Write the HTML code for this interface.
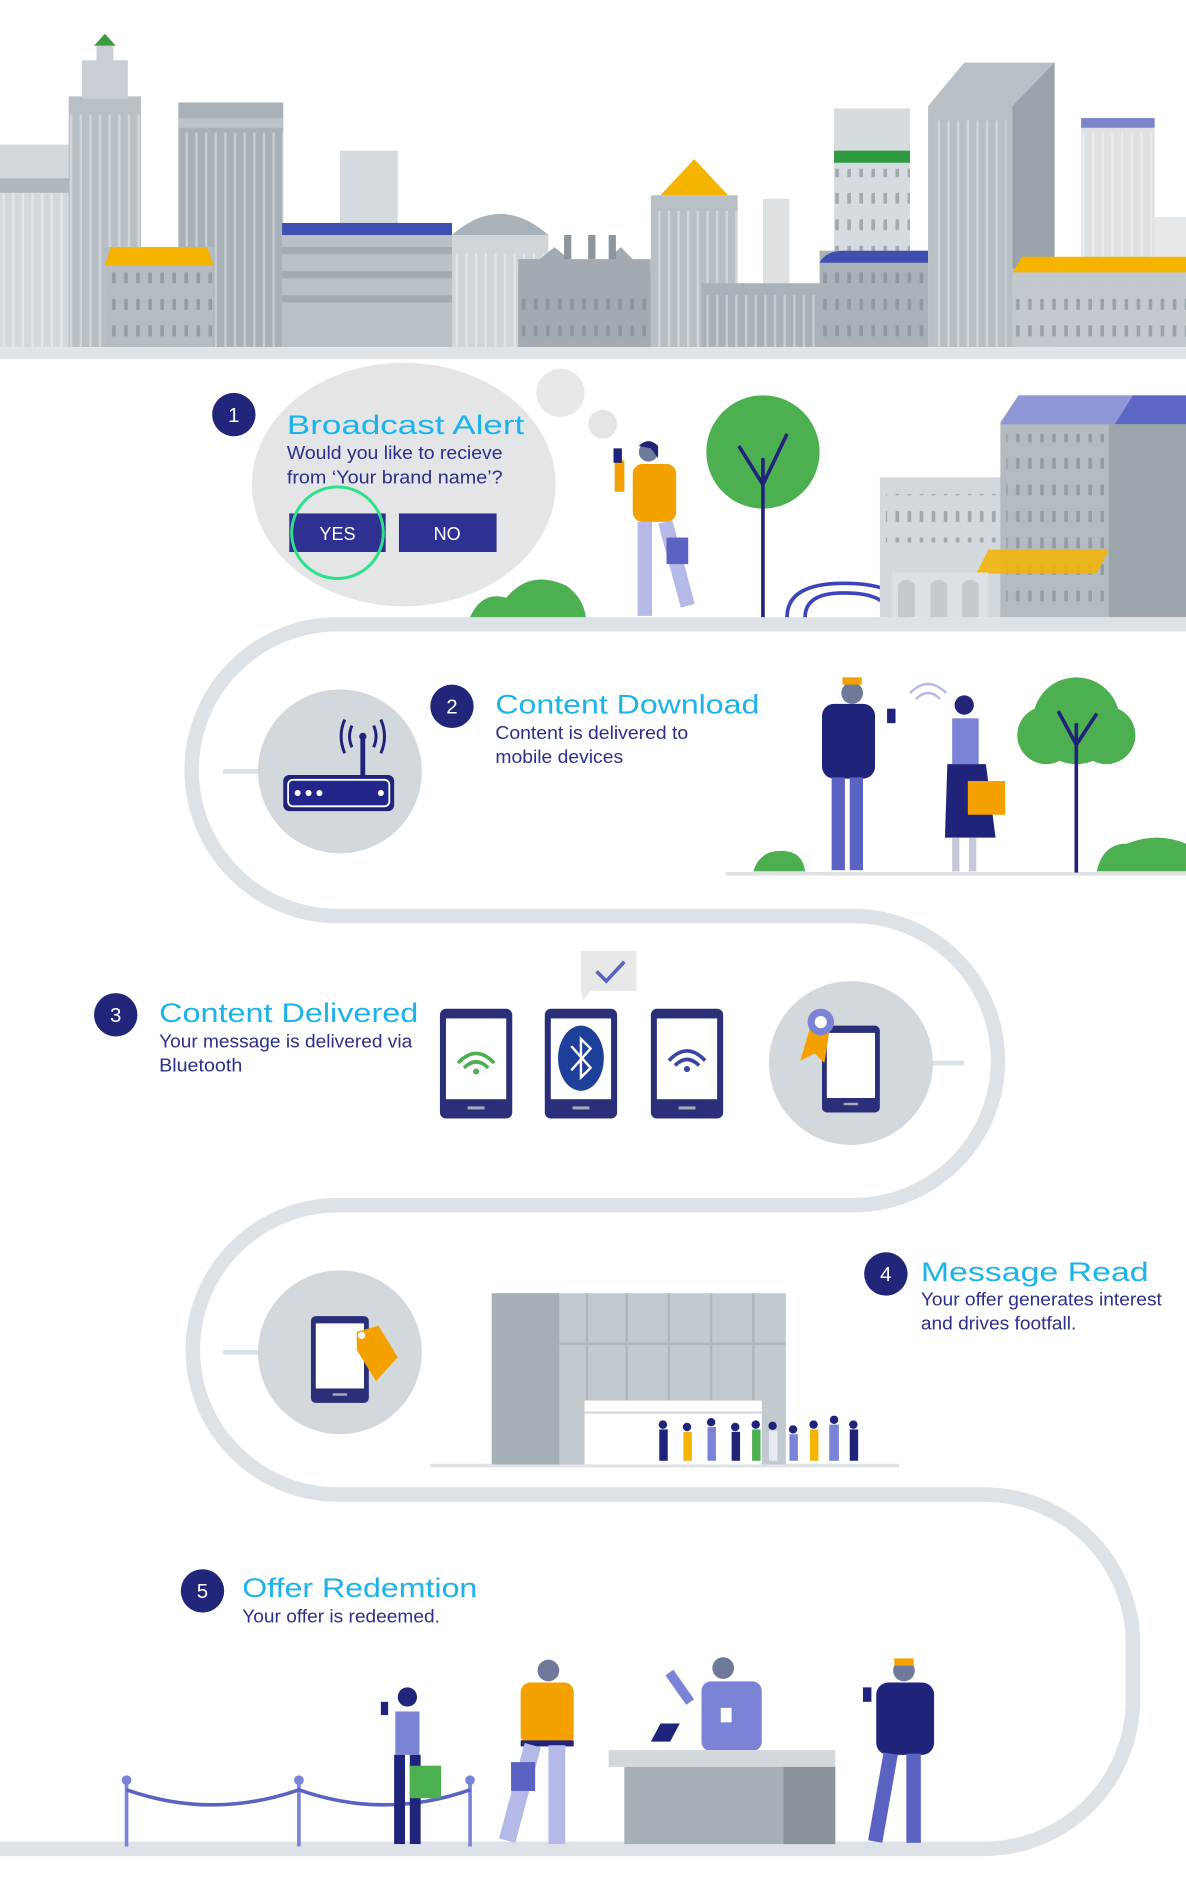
<!DOCTYPE html>
<html><head><meta charset="utf-8"><style>
html,body{margin:0;padding:0;background:#fff;}
svg{display:block}
.t{font-family:"Liberation Sans",sans-serif;fill:#1bb3ea;font-size:22px}
.b{font-family:"Liberation Sans",sans-serif;fill:#2b2f8a;font-size:15px}
.n{font-family:"Liberation Sans",sans-serif;fill:#fff;font-size:17px;text-anchor:middle}
</style></head><body>
<svg width="1186" height="1889" viewBox="0 0 984 1567.3" xmlns="http://www.w3.org/2000/svg">
<defs>
<pattern id="vs" width="8" height="10" patternUnits="userSpaceOnUse"><rect x="2" y="0" width="2" height="10" fill="#ffffff" opacity="0.35"/></pattern>
<pattern id="win" width="10" height="22" patternUnits="userSpaceOnUse"><rect x="3" y="6" width="3" height="9" fill="#7f8990" opacity="0.6"/></pattern>
</defs>
<rect width="984" height="1568" fill="#fff"/>
<!-- skyline -->
<g>
<rect x="0" y="120" width="70" height="168" fill="#d3d8dc"/>
<rect x="0" y="160" width="70" height="128" fill="url(#vs)"/>
<rect x="0" y="148" width="70" height="12" fill="#b0b8be"/>
<rect x="57" y="80" width="60" height="208" fill="#b8c0c6"/>
<rect x="57" y="95" width="60" height="193" fill="url(#vs)"/>
<rect x="68" y="50" width="38" height="32" fill="#c8ced3"/>
<polygon points="78,38 87,28 96,38" fill="#3b9a3f"/>
<rect x="80" y="38" width="14" height="14" fill="#c8ced3"/>
<rect x="148" y="85" width="87" height="203" fill="#a9b1b8"/>
<rect x="148" y="110" width="87" height="178" fill="url(#vs)"/>
<rect x="148" y="98" width="87" height="8" fill="#bcc3c9"/>
<rect x="87" y="205" width="90" height="83" fill="#b5bcc2"/>
<rect x="87" y="225" width="90" height="63" fill="url(#win)"/>
<polygon points="92,205 172,205 177,220 87,220" fill="#f4b400"/>
<rect x="282" y="125" width="48" height="70" fill="#d6dbdf"/>
<rect x="234" y="185" width="141" height="103" fill="#b9c0c6"/>
<rect x="234" y="185" width="141" height="10" fill="#3f4fb0"/>
<rect x="234" y="205" width="141" height="6" fill="#a3abb2"/>
<rect x="234" y="225" width="141" height="6" fill="#a3abb2"/>
<rect x="234" y="245" width="141" height="6" fill="#a3abb2"/>
<path d="M375 195 Q415 160 455 195 Z" fill="#aab2b9"/>
<rect x="375" y="195" width="80" height="93" fill="#d0d5d9"/>
<rect x="375" y="210" width="80" height="78" fill="url(#vs)"/>
<rect x="430" y="215" width="110" height="73" fill="#a3abb2"/>
<polygon points="430,230 460,205 490,230 515,205 540,230 540,288 430,288" fill="#a3abb2"/>
<rect x="430" y="240" width="110" height="48" fill="url(#win)"/>
<rect x="468" y="195" width="6" height="20" fill="#8d969e"/><rect x="488" y="195" width="6" height="20" fill="#8d969e"/><rect x="505" y="195" width="6" height="20" fill="#8d969e"/>
<polygon points="548,162 576,132 604,162" fill="#f4b400"/>
<rect x="540" y="162" width="72" height="126" fill="#b8c0c6"/>
<rect x="540" y="175" width="72" height="113" fill="url(#vs)"/>
<rect x="633" y="165" width="22" height="70" fill="#dde1e4"/>
<rect x="582" y="235" width="100" height="53" fill="#aab2b9"/>
<rect x="582" y="245" width="100" height="43" fill="url(#vs)"/>
<rect x="692" y="90" width="63" height="125" fill="#d6dbdf"/>
<rect x="692" y="140" width="63" height="75" fill="url(#win)"/>
<rect x="692" y="125" width="63" height="10" fill="#2e9a3f"/>
<rect x="710" y="98" width="3" height="-8" fill="#c4cace"/>
<rect x="680" y="208" width="90" height="80" fill="#aab2b9"/>
<rect x="680" y="222" width="90" height="66" fill="url(#win)"/>
<path d="M680 218 Q685 208 700 208 L770 208 L770 218 Z" fill="#3f4fb0"/>
<polygon points="770,88 800,52 875,52 875,288 770,288" fill="#b8c0c6"/>
<rect x="775" y="100" width="60" height="188" fill="url(#vs)"/>
<polygon points="840,88 875,52 875,288 840,288" fill="#9aa3ab"/>
<rect x="897" y="98" width="61" height="120" fill="#dde1e4"/>
<rect x="897" y="110" width="61" height="108" fill="url(#vs)"/>
<rect x="897" y="98" width="61" height="8" fill="#7a85cc"/>
<rect x="958" y="180" width="26" height="40" fill="#e6e9eb"/>
<rect x="840" y="223" width="144" height="65" fill="#c3c9ce"/>
<rect x="840" y="235" width="144" height="53" fill="url(#win)"/>
<polygon points="848,213 984,213 984,226 840,226" fill="#f4b400"/>
<rect x="0" y="288" width="984" height="10" fill="#e1e4e7"/>
</g>
<!-- track -->
<path d="M984 518 L280 518 A121 121 0 0 0 280 760 L708 760 A120 120 0 0 1 708 1000 L280 1000 A120 120 0 0 0 280 1240 L816 1240 A124 124 0 0 1 940 1364 L940 1410 A124 124 0 0 1 816 1534 L0 1534" fill="none" stroke="#dde2e6" stroke-width="12"/>
<!-- step1 -->
<ellipse cx="335" cy="402" rx="126" ry="101" fill="#e3e5e7"/>
<circle cx="465" cy="326" r="20" fill="#e6e8ea"/>
<circle cx="500" cy="352" r="12" fill="#e3e5e7"/>
<circle cx="194" cy="344" r="18" fill="#22267a"/>
<text class="n" x="194" y="350">1</text>
<text class="t" x="238" y="360" textLength="197" lengthAdjust="spacingAndGlyphs">Broadcast Alert</text>
<text class="b" x="238" y="381" textLength="179" lengthAdjust="spacingAndGlyphs">Would you like to recieve</text>
<text class="b" x="238" y="401" textLength="179" lengthAdjust="spacingAndGlyphs">from ‘Your brand name’?</text>
<rect x="240" y="426" width="80" height="32" fill="#2e3192"/>
<rect x="331" y="426" width="81" height="32" fill="#2e3192"/>
<text class="n" x="280" y="448" style="font-size:15px">YES</text>
<text class="n" x="371" y="448" style="font-size:15px">NO</text>
<circle cx="280" cy="442" r="38" fill="none" stroke="#2ee08a" stroke-width="2.5"/>
<path d="M390 512 Q400 490 420 496 Q440 472 470 486 Q484 496 486 512 Z" fill="#4caf50"/>
<circle cx="633" cy="375" r="47" fill="#4caf50"/>
<line x1="633" y1="380" x2="633" y2="512" stroke="#1f237a" stroke-width="3"/>
<polyline points="613,370 633,402 653,360" fill="none" stroke="#1f237a" stroke-width="3"/>
<!-- man1 -->
<circle cx="538" cy="375" r="8" fill="#6f7a9a"/>
<path d="M530 370 Q538 362 546 370 L546 380 L540 372 Z" fill="#1f237a"/>
<rect x="525" y="385" width="36" height="48" rx="8" fill="#f4a100"/>
<rect x="510" y="382" width="8" height="26" fill="#f4a100"/>
<rect x="509" y="372" width="7" height="12" fill="#1f237a"/>
<rect x="529" y="433" width="12" height="78" fill="#b5b9e8"/>
<rect x="546" y="433" width="12" height="72" fill="#b5b9e8" transform="rotate(-15 552 433)"/>
<rect x="553" y="446" width="18" height="22" fill="#5b63c2"/>
<path d="M653 512 Q653 484 700 484 Q752 484 752 512" fill="none" stroke="#3b45b8" stroke-width="3"/>
<path d="M668 512 Q668 492 700 492 Q738 492 738 512" fill="none" stroke="#3b45b8" stroke-width="3"/>
<rect x="730" y="396" width="110" height="116" fill="#d3d8dc"/>
<rect x="735" y="410" width="95" height="40" fill="url(#win)"/>
<polygon points="830,350 845,328 984,328 984,512 830,512" fill="#b3bbc1"/>
<rect x="835" y="360" width="85" height="150" fill="url(#win)"/>
<polygon points="845,328 940,328 930,352 830,352" fill="#8f97d6"/>
<polygon points="940,328 984,328 984,352 925,352" fill="#5c66c5"/>
<rect x="920" y="352" width="64" height="160" fill="#9ea6ad"/>
<polygon points="820,456 920,456 910,476 810,476" fill="#f4b400" opacity="0.85"/>
<rect x="740" y="475" width="80" height="37" fill="#dde1e4"/>
<path d="M745 512 L745 485 Q752 477 759 485 L759 512 Z M772 512 L772 485 Q779 477 786 485 L786 512 Z M798 512 L798 485 Q805 477 812 485 L812 512 Z" fill="#c4cace"/>
<!-- step2 -->
<line x1="185" y1="640" x2="215" y2="640" stroke="#dde2e6" stroke-width="4"/>
<circle cx="282" cy="640" r="68" fill="#d3d8dc"/>
<rect x="235" y="643" width="92" height="30" rx="5" fill="#1f237a"/>
<rect x="239" y="647" width="84" height="22" rx="4" fill="#22268a" stroke="#fff" stroke-width="1.5"/>
<circle cx="247" cy="658" r="2.5" fill="#fff"/><circle cx="256" cy="658" r="2.5" fill="#fff"/><circle cx="265" cy="658" r="2.5" fill="#fff"/><circle cx="316" cy="658" r="2.5" fill="#fff"/>
<rect x="299" y="612" width="4" height="31" fill="#1f237a"/>
<circle cx="301" cy="611" r="3" fill="#1f237a"/>
<path d="M292 602 Q288 611 292 620 M310 602 Q314 611 310 620 M286 597 Q280 611 286 625 M316 597 Q322 611 316 625" fill="none" stroke="#1f237a" stroke-width="2.5"/>
<circle cx="375" cy="586" r="18" fill="#22267a"/>
<text class="n" x="375" y="592">2</text>
<text class="t" x="411" y="592" textLength="219" lengthAdjust="spacingAndGlyphs">Content Download</text>
<text class="b" x="411" y="613" textLength="160" lengthAdjust="spacingAndGlyphs">Content is delivered to</text>
<text class="b" x="411" y="633" textLength="106" lengthAdjust="spacingAndGlyphs">mobile devices</text>
<line x1="602" y1="725" x2="984" y2="725" stroke="#e0e3e6" stroke-width="3"/>
<path d="M625 723 Q630 706 648 706 Q666 706 668 723 Z" fill="#4caf50"/>
<path d="M910 723 Q915 700 935 700 Q960 690 984 700 L984 723 Z" fill="#4caf50"/>
<circle cx="893" cy="598" r="36" fill="#4caf50"/><circle cx="868" cy="610" r="24" fill="#4caf50"/><circle cx="918" cy="610" r="24" fill="#4caf50"/>
<line x1="893" y1="600" x2="893" y2="724" stroke="#1f237a" stroke-width="3"/>
<polyline points="878,590 893,618 910,592" fill="none" stroke="#1f237a" stroke-width="3"/>
<circle cx="707" cy="575" r="9" fill="#6f7a9a"/><rect x="699" y="562" width="16" height="6" fill="#f4a100"/>
<rect x="682" y="584" width="44" height="62" rx="10" fill="#1f237a"/>
<rect x="736" y="588" width="7" height="12" fill="#1f237a"/>
<rect x="690" y="645" width="11" height="77" fill="#5b63c2"/><rect x="705" y="645" width="11" height="77" fill="#5b63c2"/>
<circle cx="800" cy="585" r="8" fill="#22267a"/>
<rect x="790" y="596" width="22" height="38" fill="#7b83d6"/>
<path d="M786 634 L818 634 L826 695 L784 695 Z" fill="#1f237a"/>
<rect x="790" y="695" width="6" height="28" fill="#c5c8d8"/><rect x="804" y="695" width="6" height="28" fill="#c5c8d8"/>
<rect x="803" y="648" width="31" height="28" fill="#f4a100"/>
<path d="M755 575 Q770 560 785 575 M760 580 Q770 570 780 580" fill="none" stroke="#b5b9e8" stroke-width="2"/>
<!-- step3 -->
<circle cx="96" cy="842" r="18" fill="#22267a"/>
<text class="n" x="96" y="848">3</text>
<text class="t" x="132" y="848" textLength="215" lengthAdjust="spacingAndGlyphs">Content Delivered</text>
<text class="b" x="132" y="869" textLength="210" lengthAdjust="spacingAndGlyphs">Your message is delivered via</text>
<text class="b" x="132" y="889" textLength="69" lengthAdjust="spacingAndGlyphs">Bluetooth</text>
<g>
<rect x="365" y="837" width="60" height="91" rx="5" fill="#2b2f7a"/><rect x="370" y="845" width="50" height="67" fill="#fff"/><rect x="388" y="918" width="14" height="2.5" fill="#aab"/>
<path d="M380 882 Q395 866 410 882 M385 886 Q395 876 405 886" fill="none" stroke="#4caf50" stroke-width="3"/><circle cx="395" cy="889" r="2.5" fill="#4caf50"/>
<rect x="452" y="837" width="60" height="91" rx="5" fill="#2b2f7a"/><rect x="457" y="845" width="50" height="67" fill="#fff"/><rect x="475" y="918" width="14" height="2.5" fill="#aab"/>
<ellipse cx="482" cy="878" rx="19" ry="27" fill="#1e3f9a"/>
<polyline points="474,868 490,886 482,894 482,862 490,870 474,888" fill="none" stroke="#fff" stroke-width="2"/>
<rect x="540" y="837" width="60" height="91" rx="5" fill="#2b2f7a"/><rect x="545" y="845" width="50" height="67" fill="#fff"/><rect x="563" y="918" width="14" height="2.5" fill="#aab"/>
<path d="M555 880 Q570 864 585 880 M560 884 Q570 874 580 884" fill="none" stroke="#3b45a8" stroke-width="3"/><circle cx="570" cy="887" r="2.5" fill="#3b45a8"/>
<path d="M482 789 L528 789 L528 822 L490 822 L484 830 L482 822 Z" fill="#e6e8ea"/>
<polyline points="495,806 503,814 518,798" fill="none" stroke="#5b63c2" stroke-width="3"/>
</g>
<line x1="772" y1="882" x2="800" y2="882" stroke="#dde2e6" stroke-width="4"/>
<circle cx="706" cy="882" r="68" fill="#d3d8dc"/>
<rect x="682" y="851" width="48" height="72" rx="4" fill="#2b2f7a"/><rect x="686" y="857" width="40" height="54" fill="#fff"/><rect x="700" y="915" width="12" height="2" fill="#aab"/>
<polygon points="672,853 664,880 676,874 684,882 688,856" fill="#f4a100"/>
<circle cx="681" cy="848" r="11" fill="#7b83d6"/><circle cx="681" cy="848" r="5" fill="#fff"/>
<!-- step4 -->
<line x1="185" y1="1122" x2="215" y2="1122" stroke="#dde2e6" stroke-width="4"/>
<circle cx="282" cy="1122" r="68" fill="#d3d8dc"/>
<rect x="258" y="1092" width="48" height="72" rx="4" fill="#2b2f7a"/><rect x="262" y="1098" width="40" height="54" fill="#fff"/><rect x="276" y="1156" width="12" height="2" fill="#aab"/>
<polygon points="296,1105 314,1100 330,1126 312,1146 296,1120" fill="#f4a100"/>
<circle cx="300" cy="1108" r="3" fill="#fff"/>
<line x1="357" y1="1216" x2="746" y2="1216" stroke="#e0e3e6" stroke-width="3"/>
<rect x="408" y="1073" width="244" height="142" fill="#c2cad0"/>
<rect x="408" y="1073" width="56" height="142" fill="#a5b0b6"/>
<g stroke="#aeb7bd" stroke-width="2"><line x1="487" y1="1073" x2="487" y2="1165"/><line x1="520" y1="1073" x2="520" y2="1165"/><line x1="555" y1="1073" x2="555" y2="1165"/><line x1="590" y1="1073" x2="590" y2="1165"/><line x1="625" y1="1073" x2="625" y2="1165"/><line x1="464" y1="1115" x2="652" y2="1115"/></g>
<rect x="485" y="1162" width="147" height="53" fill="#fff"/>
<line x1="485" y1="1172" x2="632" y2="1172" stroke="#d6dbdf" stroke-width="2"/>
<g>
<rect x="547" y="1186" width="7" height="26" fill="#1f237a"/><rect x="567" y="1188" width="7" height="24" fill="#f4b400"/><rect x="587" y="1184" width="7" height="28" fill="#7b83d6"/><rect x="607" y="1188" width="7" height="24" fill="#1f237a"/><rect x="624" y="1186" width="7" height="26" fill="#4caf50"/><rect x="638" y="1187" width="7" height="25" fill="#e8eaf0"/><rect x="655" y="1190" width="7" height="22" fill="#7b83d6"/><rect x="672" y="1186" width="7" height="26" fill="#f4b400"/><rect x="688" y="1182" width="8" height="30" fill="#7b83d6"/><rect x="705" y="1186" width="7" height="26" fill="#1f237a"/>
<g fill="#1f237a"><circle cx="550" cy="1182" r="3.5"/><circle cx="570" cy="1184" r="3.5"/><circle cx="590" cy="1180" r="3.5"/><circle cx="610" cy="1184" r="3.5"/><circle cx="627" cy="1182" r="3.5"/><circle cx="641" cy="1183" r="3.5"/><circle cx="658" cy="1186" r="3.5"/><circle cx="675" cy="1182" r="3.5"/><circle cx="692" cy="1178" r="3.5"/><circle cx="708" cy="1182" r="3.5"/></g>
</g>
<circle cx="735" cy="1057" r="18" fill="#22267a"/>
<text class="n" x="735" y="1063">4</text>
<text class="t" x="764" y="1063" textLength="189" lengthAdjust="spacingAndGlyphs">Message Read</text>
<text class="b" x="764" y="1083" textLength="200" lengthAdjust="spacingAndGlyphs">Your offer generates interest</text>
<text class="b" x="764" y="1103" textLength="129" lengthAdjust="spacingAndGlyphs">and drives footfall.</text>
<!-- step5 -->
<circle cx="168" cy="1320" r="18" fill="#22267a"/>
<text class="n" x="168" y="1326">5</text>
<text class="t" x="201" y="1325" textLength="195" lengthAdjust="spacingAndGlyphs">Offer Redemtion</text>
<text class="b" x="201" y="1346" textLength="164" lengthAdjust="spacingAndGlyphs">Your offer is redeemed.</text>
<g stroke="#7b83d6" stroke-width="3" fill="none"><line x1="105" y1="1478" x2="105" y2="1532"/><line x1="248" y1="1478" x2="248" y2="1532"/><line x1="390" y1="1478" x2="390" y2="1532"/><path d="M105 1485 Q176 1510 248 1485 Q319 1510 390 1485" stroke="#5b63c2"/></g>
<circle cx="105" cy="1477" r="4" fill="#7b83d6"/><circle cx="248" cy="1477" r="4" fill="#7b83d6"/><circle cx="390" cy="1477" r="4" fill="#7b83d6"/>
<circle cx="338" cy="1408" r="8" fill="#22267a"/><rect x="328" y="1420" width="20" height="36" fill="#7b83d6"/><rect x="316" y="1412" width="6" height="11" fill="#1f237a"/><rect x="327" y="1456" width="9" height="74" fill="#1f237a"/><rect x="340" y="1456" width="9" height="74" fill="#1f237a"/><rect x="340" y="1465" width="26" height="27" fill="#4caf50"/>
<circle cx="455" cy="1386" r="9" fill="#6f7a9a"/><rect x="432" y="1396" width="44" height="52" rx="8" fill="#f4a100"/><rect x="432" y="1444" width="44" height="5" fill="#1f237a"/><rect x="435" y="1448" width="14" height="82" fill="#b5b9e8" transform="rotate(15 442 1448)"/><rect x="455" y="1448" width="14" height="82" fill="#b5b9e8"/><rect x="424" y="1462" width="20" height="24" fill="#5b63c2"/>
<circle cx="600" cy="1384" r="9" fill="#6f7a9a"/><rect x="582" y="1395" width="50" height="58" rx="8" fill="#7b83d6"/><rect x="598" y="1417" width="9" height="12" fill="#fff"/>
<rect x="560" y="1385" width="8" height="30" fill="#7b83d6" transform="rotate(-35 564 1400)"/>
<rect x="505" y="1452" width="188" height="14" fill="#d3d8dc"/><rect x="518" y="1466" width="175" height="64" fill="#a5b0b6"/><rect x="650" y="1466" width="43" height="64" fill="#8a959b"/>
<polygon points="540,1445 548,1430 564,1430 556,1445" fill="#1f237a"/>
<circle cx="750" cy="1386" r="9" fill="#6f7a9a"/><rect x="742" y="1376" width="16" height="6" fill="#f4a100"/><rect x="727" y="1396" width="48" height="60" rx="10" fill="#1f237a"/><rect x="716" y="1400" width="7" height="12" fill="#1f237a"/><rect x="733" y="1455" width="12" height="74" fill="#5b63c2" transform="rotate(10 739 1455)"/><rect x="752" y="1455" width="12" height="74" fill="#5b63c2"/>
</svg>
</body></html>
